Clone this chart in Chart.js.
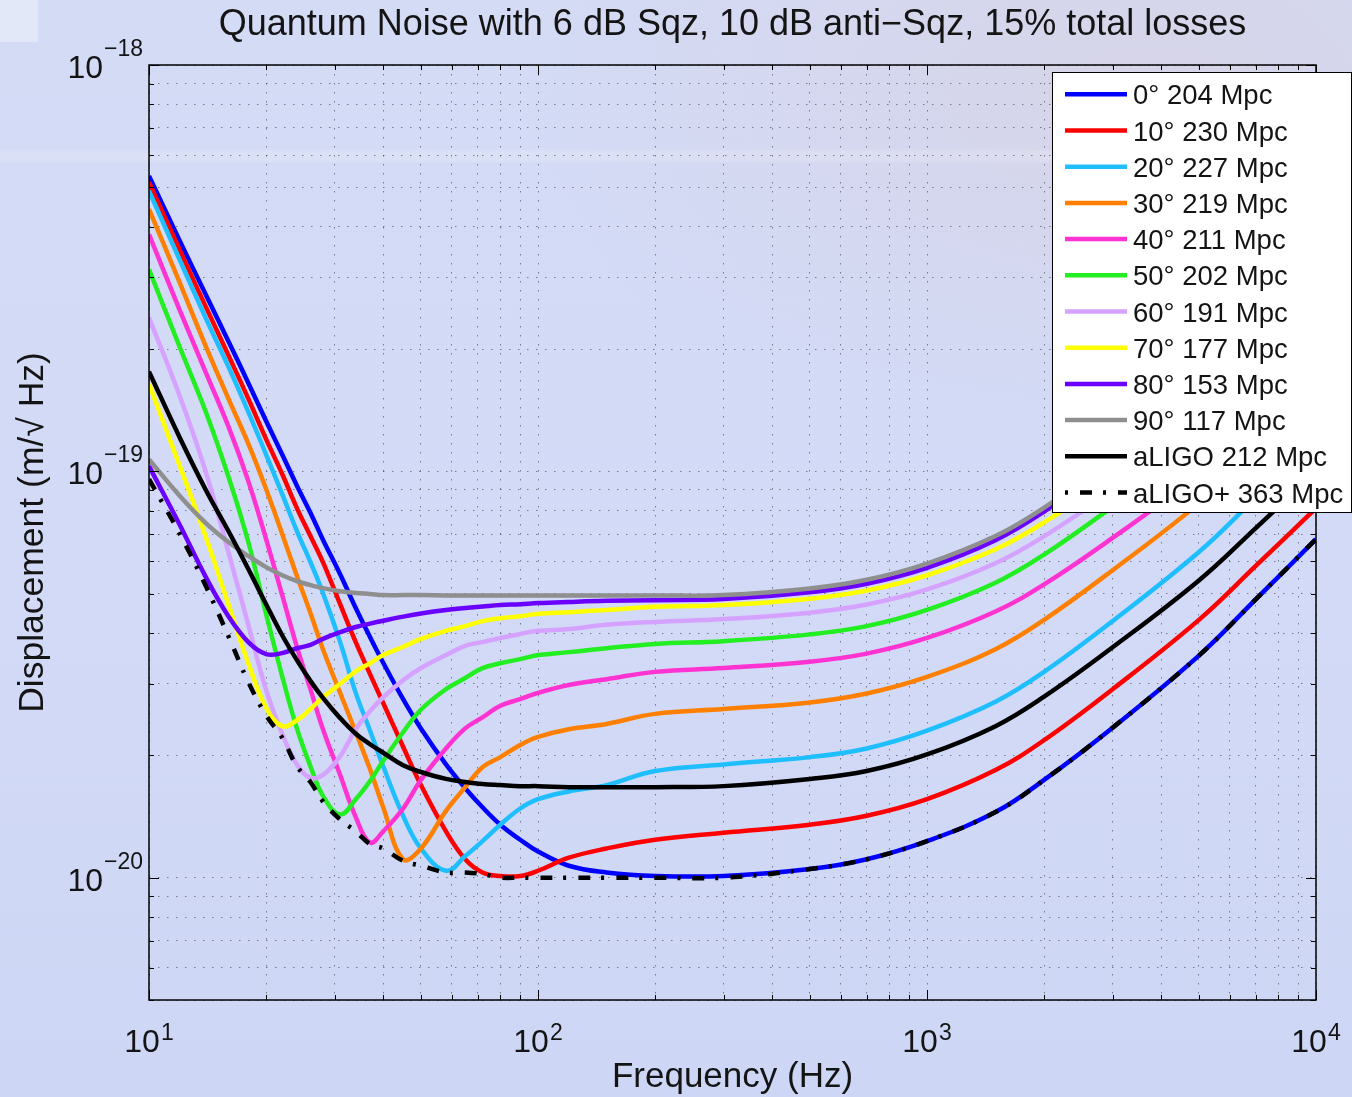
<!DOCTYPE html>
<html>
<head>
<meta charset="utf-8">
<title>Quantum Noise with 6 dB Sqz</title>
<script src="https://cdn.jsdelivr.net/npm/chart.js@4.4.1/dist/chart.umd.min.js"></script>
<style>
  html, body { margin: 0; padding: 0; }
  body {
    width: 1352px; height: 1097px; overflow: hidden;
    background:
      linear-gradient(rgba(255,255,255,0.35), rgba(255,255,255,0.35)) no-repeat 0 0 / 38px 42px,
      linear-gradient(180deg, rgba(255,255,255,0) 148px, rgba(255,255,255,0.16) 152px, rgba(255,255,255,0.16) 160px, rgba(255,255,255,0) 164px),
      radial-gradient(ellipse 900px 520px at 85% 8%, rgba(214,212,232,0.95), rgba(214,212,232,0) 70%),
      linear-gradient(180deg, #d4dbf5 0%, #d2daf7 55%, #cdd6f4 100%);
  }
  #wrap { position: relative; width: 1352px; height: 1097px; }
</style>
</head>
<body>
<div id="wrap"><canvas id="qn" width="1352" height="1097"></canvas></div>
<script>
// frequency grid (Hz)
const FREQ_HZ = [10, 12, 14, 16, 18, 20, 22, 24, 26, 28, 31, 34, 37, 40, 45,
                 50, 58, 65, 72, 80, 90, 100, 120, 150, 200, 300, 500, 700,
                 1000, 1500, 2000, 3000, 5000, 7000, 10000];

// displacement noise, in units of 1e-20 m/rtHz
const SQZ_0  = [53.3, 36.9, 27.2, 20.9, 16.5, 13.3, 11.0, 9.22, 7.91, 6.79, 5.58, 4.61, 3.91, 3.38, 2.75,
                2.33, 1.90, 1.66, 1.49, 1.35, 1.24, 1.16, 1.07, 1.03, 1.01, 1.01, 1.05, 1.11,
                1.23, 1.45, 1.74, 2.34, 3.52, 4.84, 6.81];
const SQZ_10 = [51.5, 35.0, 25.4, 19.3, 15.1, 12.0, 9.85, 8.12, 6.93, 5.98, 4.71, 3.80, 3.17, 2.69, 2.10,
                1.69, 1.30, 1.11, 1.03, 1.01, 1.01, 1.04, 1.12, 1.18, 1.24, 1.29, 1.35, 1.42,
                1.56, 1.84, 2.18, 2.91, 4.31, 5.85, 8.12];
const SQZ_20 = [49.0, 33.1, 23.8, 18.1, 14.0, 11.0, 8.79, 7.13, 5.98, 5.02, 3.80, 2.85, 2.30, 1.88, 1.42,
                1.18, 1.04, 1.13, 1.23, 1.35, 1.48, 1.56, 1.63, 1.69, 1.83, 1.90, 1.98, 2.08,
                2.30, 2.71, 3.21, 4.28, 6.33, 8.60, 11.9];
const SQZ_30 = [44.2, 29.1, 20.3, 15.1, 11.7, 9.05, 7.01, 5.53, 4.48, 3.65, 2.85, 2.28, 1.85, 1.49, 1.11,
                1.18, 1.46, 1.67, 1.87, 1.98, 2.12, 2.22, 2.32, 2.39, 2.53, 2.60, 2.70, 2.84,
                3.12, 3.65, 4.31, 5.71, 8.34, 11.2, 15.4];
const SQZ_40 = [38.3, 24.9, 17.5, 12.9, 9.46, 6.81, 4.96, 3.70, 2.91, 2.32, 1.79, 1.41, 1.22, 1.30, 1.48,
                1.74, 2.08, 2.33, 2.48, 2.65, 2.75, 2.85, 2.98, 3.08, 3.21, 3.28, 3.40, 3.56,
                3.89, 4.52, 5.27, 6.86, 9.79, 12.9, 17.4];
const SQZ_50 = [31.4, 20.2, 14.0, 9.71, 6.70, 4.46, 3.13, 2.33, 1.88, 1.59, 1.43, 1.56, 1.73, 1.94, 2.28,
                2.59, 2.91, 3.10, 3.28, 3.37, 3.45, 3.53, 3.59, 3.67, 3.76, 3.82, 3.97, 4.16,
                4.56, 5.32, 6.24, 8.19, 11.8, 15.8, 21.5];
const SQZ_60 = [23.9, 15.3, 9.96, 6.33, 4.19, 2.90, 2.26, 1.90, 1.76, 1.79, 1.99, 2.32, 2.57, 2.78, 3.06,
                3.28, 3.53, 3.72, 3.80, 3.89, 3.98, 4.05, 4.09, 4.19, 4.26, 4.33, 4.49, 4.70,
                5.12, 5.94, 6.92, 8.98, 12.8, 16.8, 22.6];
const SQZ_70 = [16.4, 10.3, 6.89, 4.71, 3.37, 2.62, 2.36, 2.44, 2.60, 2.78, 3.00, 3.22, 3.37, 3.53, 3.70,
                3.87, 4.05, 4.16, 4.28, 4.35, 4.40, 4.46, 4.50, 4.56, 4.64, 4.69, 4.86, 5.09,
                5.55, 6.43, 7.49, 9.72, 13.8, 18.2, 24.5];
const SQZ_80 = [10.3, 7.38, 5.49, 4.40, 3.80, 3.55, 3.57, 3.67, 3.74, 3.87, 4.02, 4.14, 4.22, 4.29, 4.39,
                4.47, 4.56, 4.61, 4.65, 4.69, 4.71, 4.74, 4.77, 4.80, 4.82, 4.85, 5.04, 5.29,
                5.79, 6.77, 7.96, 10.5, 15.2, 20.3, 27.8];
const SQZ_90 = [10.7, 8.70, 7.46, 6.70, 6.19, 5.81, 5.55, 5.37, 5.25, 5.16, 5.07, 5.02, 4.99, 4.96, 4.96,
                4.96, 4.95, 4.95, 4.95, 4.95, 4.95, 4.95, 4.95, 4.95, 4.95, 4.96, 5.15, 5.41,
                5.93, 6.93, 8.14, 10.7, 15.5, 20.8, 28.4];
const ALIGO  = [17.6, 12.1, 9.00, 7.13, 5.75, 4.71, 3.95, 3.43, 3.05, 2.77, 2.47, 2.26, 2.13, 2.03, 1.89,
                1.82, 1.75, 1.72, 1.70, 1.69, 1.68, 1.68, 1.67, 1.67, 1.67, 1.68, 1.75, 1.83,
                2.01, 2.36, 2.79, 3.69, 5.39, 7.25, 9.98];
const ALIGO_PLUS = [9.57, 7.01, 5.22, 3.93, 3.03, 2.51, 2.21, 1.88, 1.72, 1.54, 1.39, 1.30, 1.21, 1.18, 1.10,
                1.07, 1.03, 1.03, 1.02, 1.00, 1.00, 1.00, 1.00, 1.00, 1.00, 1.00, 1.05, 1.11,
                1.23, 1.45, 1.74, 2.34, 3.52, 4.84, 6.81];
const UNIT = 1e-20;

const LABELS = ['0° 204 Mpc', '10° 230 Mpc', '20° 227 Mpc', '30° 219 Mpc', '40° 211 Mpc',
                '50° 202 Mpc', '60° 191 Mpc', '70° 177 Mpc', '80° 153 Mpc', '90° 117 Mpc',
                'aLIGO 212 Mpc', 'aLIGO+ 363 Mpc'];
const COLORS = ['#0000ff', '#ff0000', '#1ebeff', '#ff8000', '#ff33d2', '#22ee22',
                '#d6a2ff', '#ffff00', '#6a00ff', '#8f8f8f', '#000000', '#000000'];

const X_RANGE = [10, 10000];
const Y_RANGE = [5e-21, 1e-18];
const TITLE = 'Quantum Noise with 6 dB Sqz, 10 dB anti\u2212Sqz, 15% total losses';
const X_TITLE = 'Frequency (Hz)';
const Y_TITLE = 'Displacement (m/\u221A Hz)';

const FONT = "'Liberation Sans', Arial, Helvetica, sans-serif";
const TEXT = '#141414';
const DASH_DOT = [12, 11, 3, 12];

// 1..9 x 10^n tick values inside [min, max]
function logTicks(range) {
  const [min, max] = range;
  const out = [];
  for (let e = Math.floor(Math.log10(min)); e <= Math.ceil(Math.log10(max)); e++) {
    for (let m = 1; m <= 9; m++) {
      const v = m * Math.pow(10, e);
      if (v >= min * 0.999 && v <= max * 1.001) out.push(v);
    }
  }
  return out;
}

function isDecade(v) {
  const l = Math.log10(v);
  return Math.abs(l - Math.round(l)) < 1e-6;
}

// "10" with a raised exponent
function powerLabel(ctx, exp, x, baseY, expY, align) {
  const expText = exp < 0 ? '\u2212' + Math.abs(exp) : String(exp);
  ctx.font = '32px ' + FONT;
  const wb = ctx.measureText('10').width;
  ctx.font = '23px ' + FONT;
  const we = ctx.measureText(expText).width;
  const start = align === 'right' ? x - wb - we - 1 : x - (wb + we + 1) / 2;
  ctx.textAlign = 'left';
  ctx.textBaseline = 'alphabetic';
  ctx.font = '32px ' + FONT;
  ctx.fillText('10', start, baseY);
  ctx.font = '23px ' + FONT;
  ctx.fillText(expText, start + wb + 1, expY);
}

function drawLegend(chart) {
  const ctx = chart.ctx;
  const left = 1052, top = 72, w = 299, h = 440;
  ctx.fillStyle = '#ffffff';
  ctx.fillRect(left, top, w, h);
  ctx.strokeStyle = '#000';
  ctx.lineWidth = 1;
  ctx.strokeRect(left + 0.5, top + 0.5, w, h);
  chart.data.datasets.forEach((ds, i) => {
    const yy = top + 22.3 + i * 36.2;
    const dash = ds.borderDash || [];
    ctx.beginPath();
    ctx.setLineDash(dash);
    ctx.lineDashOffset = dash.length ? 23 : 0;
    ctx.strokeStyle = ds.borderColor;
    ctx.lineWidth = 4.5;
    ctx.moveTo(left + 13, yy);
    ctx.lineTo(left + 75, yy);
    ctx.stroke();
    ctx.setLineDash([]);
    ctx.fillStyle = TEXT;
    ctx.font = '27.5px ' + FONT;
    ctx.textAlign = 'left';
    ctx.textBaseline = 'alphabetic';
    ctx.fillText(ds.label, left + 81, yy + 10);
  });
}

const matlabAxes = {
  id: 'matlabAxes',
  afterDraw(chart) {
    const { ctx, chartArea: a } = chart;
    const xs = chart.scales.x, ys = chart.scales.y;
    ctx.save();

    // inward tick marks on all four sides
    ctx.strokeStyle = '#000';
    ctx.lineWidth = 1;
    ctx.beginPath();
    logTicks(X_RANGE).forEach(v => {
      const px = Math.round(xs.getPixelForValue(v)) + 0.5;
      const len = isDecade(v) ? 10 : 5;
      ctx.moveTo(px, a.bottom); ctx.lineTo(px, a.bottom - len);
      ctx.moveTo(px, a.top); ctx.lineTo(px, a.top + len);
    });
    logTicks(Y_RANGE).forEach(v => {
      const py = Math.round(ys.getPixelForValue(v)) + 0.5;
      const len = isDecade(v) ? 10 : 5;
      ctx.moveTo(a.left, py); ctx.lineTo(a.left + len, py);
      ctx.moveTo(a.right, py); ctx.lineTo(a.right - len, py);
    });
    ctx.stroke();

    // axes box
    ctx.lineWidth = 1.5;
    ctx.strokeRect(a.left, a.top, a.right - a.left, a.bottom - a.top);

    // tick labels
    ctx.fillStyle = TEXT;
    logTicks(X_RANGE).filter(isDecade).forEach(v => {
      const px = xs.getPixelForValue(v);
      powerLabel(ctx, Math.round(Math.log10(v)), px, a.bottom + 52, a.bottom + 40, 'center');
    });
    logTicks(Y_RANGE).filter(isDecade).forEach(v => {
      const py = ys.getPixelForValue(v);
      powerLabel(ctx, Math.round(Math.log10(v)), a.left - 6, py + 13, py - 9, 'right');
    });

    // titles
    ctx.textAlign = 'center';
    ctx.textBaseline = 'alphabetic';
    ctx.font = '36px ' + FONT;
    ctx.fillText(TITLE, (a.left + a.right) / 2, 35);
    ctx.font = '35px ' + FONT;
    ctx.fillText(X_TITLE, (a.left + a.right) / 2, 1087);
    ctx.save();
    ctx.translate(43, (a.top + a.bottom) / 2);
    ctx.rotate(-Math.PI / 2);
    ctx.font = '35.5px ' + FONT;
    ctx.fillText(Y_TITLE, 0, 0);
    ctx.restore();

    drawLegend(chart);
    ctx.restore();
  }
};

const SERIES = [SQZ_0, SQZ_10, SQZ_20, SQZ_30, SQZ_40, SQZ_50,
                SQZ_60, SQZ_70, SQZ_80, SQZ_90, ALIGO, ALIGO_PLUS];

const gridStyle = {
  grid: { color: 'rgba(45,45,45,0.55)', lineWidth: 1, drawTicks: false },
  border: { display: false, dash: [1.5, 7.5] },
  ticks: { display: false },
};

new Chart(document.getElementById('qn'), {
  type: 'line',
  data: {
    datasets: SERIES.map((vals, i) => ({
      label: LABELS[i],
      data: FREQ_HZ.map((f, k) => ({ x: f, y: vals[k] * UNIT })),
      borderColor: COLORS[i],
      borderWidth: 4.5,
      borderDash: i === SERIES.length - 1 ? DASH_DOT : [],
      borderCapStyle: 'butt',
      borderJoinStyle: 'round',
      pointRadius: 0,
      tension: 0.4,
      fill: false,
      clip: 0,
      order: SERIES.length - i,   // later series drawn on top
    })),
  },
  options: {
    responsive: false,
    animation: false,
    devicePixelRatio: 1,
    events: [],
    layout: { padding: { top: 65, right: 36, left: 0, bottom: 0 } },
    plugins: { legend: { display: false }, tooltip: { enabled: false }, title: { display: false } },
    scales: {
      x: {
        type: 'logarithmic', min: X_RANGE[0], max: X_RANGE[1],
        afterBuildTicks: s => { s.ticks = logTicks(X_RANGE).map(v => ({ value: v })); },
        afterFit: s => { s.height = 97; },
        ...gridStyle,
      },
      y: {
        type: 'logarithmic', min: Y_RANGE[0], max: Y_RANGE[1],
        afterBuildTicks: s => { s.ticks = logTicks(Y_RANGE).map(v => ({ value: v })); },
        afterFit: s => { s.width = 149; },
        ...gridStyle,
      },
    },
  },
  plugins: [matlabAxes],
});
</script>
</body>
</html>
